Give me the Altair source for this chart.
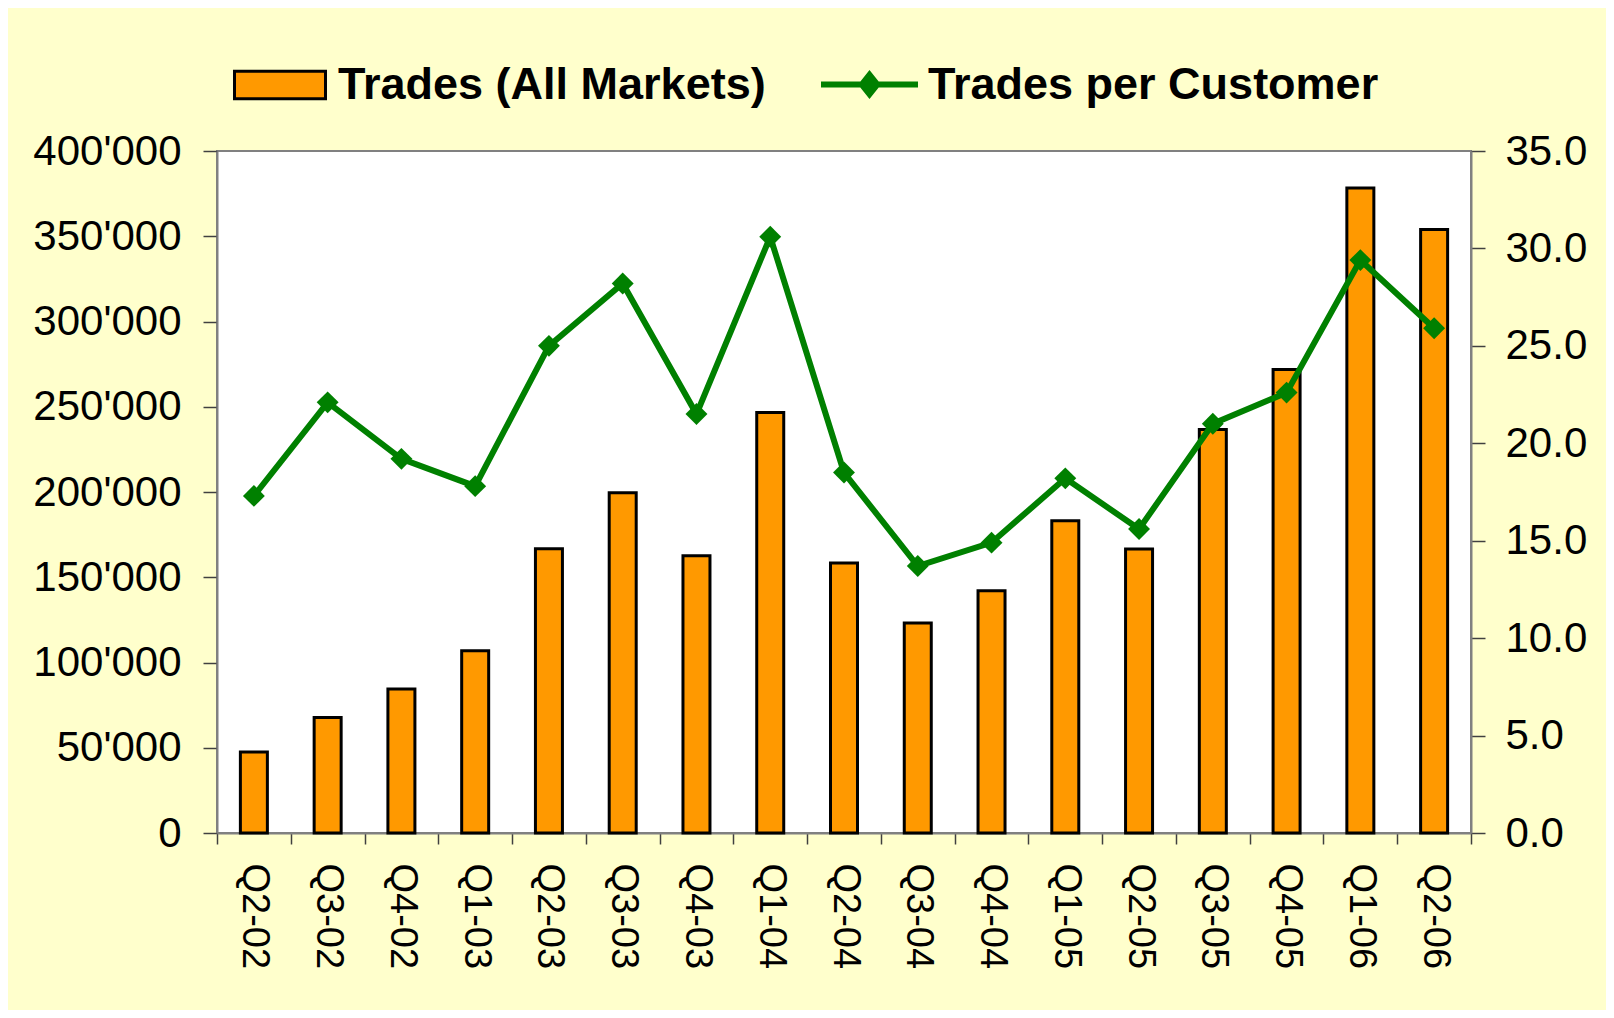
import altair as alt
import pandas as pd

quarters = ["Q2-02", "Q3-02", "Q4-02", "Q1-03", "Q2-03", "Q3-03", "Q4-03", "Q1-04",
            "Q2-04", "Q3-04", "Q4-04", "Q1-05", "Q2-05", "Q3-05", "Q4-05", "Q1-06", "Q2-06"]
trades = [47500, 67800, 84500, 106900, 166700, 199500, 162600, 246700,
          158400, 123200, 142100, 183200, 166600, 236600, 271800, 378300, 353900]
per_customer = [17.3, 22.1, 19.2, 17.8, 25.0, 28.2, 21.5, 30.6,
                18.5, 13.7, 14.9, 18.2, 15.6, 21.0, 22.6, 29.4, 25.9]
bar_name = "Trades (All Markets)"
line_name = "Trades per Customer"
left_ticks = [0, 50000, 100000, 150000, 200000, 250000, 300000, 350000, 400000]
right_ticks = [0, 5, 10, 15, 20, 25, 30, 35]

df = pd.DataFrame({"quarter": quarters, "trades": trades, "per_customer": per_customer})

FONT = "Liberation Sans"
ORANGE = "#FF9900"
GREEN = "#008000"
AXIS_GRAY = "#808080"

x = alt.X(
    "quarter:N", sort=quarters, title=None,
    scale=alt.Scale(paddingInner=0, paddingOuter=0),
    axis=alt.Axis(labelAngle=90, labelFontSize=38, labelFont=FONT, labelColor="black",
                  tickSize=11, tickBand="extent", labelPadding=19,
                  domainColor=AXIS_GRAY, domainWidth=2, tickColor="#404040", tickWidth=1.5),
)

base = alt.Chart(df).encode(x=x)

bars = base.mark_bar(size=27, stroke="black", strokeWidth=3).transform_calculate(
    s1="'" + bar_name + "'"
).encode(
    y=alt.Y("trades:Q", title=None, scale=alt.Scale(domain=[0, 400000], nice=False),
            axis=alt.Axis(values=left_ticks, orient="left", labelFontSize=42, labelFont=FONT,
                          labelColor="black", tickSize=14, labelPadding=22,
                          labelExpr="replace(format(datum.value, ',d'), ',', \"'\")",
                          domainColor=AXIS_GRAY, domainWidth=2, tickColor="#404040",
                          tickWidth=1.5, grid=False)),
    color=alt.Color("s1:N", scale=alt.Scale(domain=[bar_name], range=[ORANGE]),
                    legend=alt.Legend(orient="none", legendX=16, legendY=-113, title=None,
                                      symbolType="M-1,-0.3L1,-0.3L1,0.3L-1,0.3Z",
                                      symbolSize=8281, symbolStrokeColor="black",
                                      symbolStrokeWidth=3, labelFontSize=45, labelFont=FONT,
                                      labelFontWeight="bold", labelColor="black",
                                      labelOffset=11, labelLimit=0, padding=0)),
)

y_right = alt.Y("per_customer:Q", title=None, scale=alt.Scale(domain=[0, 35], nice=False),
                axis=alt.Axis(values=right_ticks, orient="right", format=".1f", labelFontSize=42,
                              labelFont=FONT, labelColor="black", tickSize=14, labelPadding=20,
                              domainColor=AXIS_GRAY, domainWidth=2, tickColor="#404040",
                              tickWidth=1.5, grid=False))

line = base.mark_line(strokeWidth=6).transform_calculate(
    s2="'" + line_name + "'"
).encode(
    y=y_right,
    color=alt.Color("s2:N", scale=alt.Scale(domain=[line_name], range=[GREEN]),
                    legend=alt.Legend(orient="none", legendX=601, legendY=-118, title=None,
                                      symbolType="M-1,0L1,0M-0.16,0L0,-0.2L0.16,0L0,0.2Z",
                                      symbolSize=9409, symbolFillColor=GREEN,
                                      symbolStrokeWidth=6, labelFontSize=45, labelFont=FONT,
                                      labelFontWeight="bold", labelColor="black",
                                      labelOffset=7, labelLimit=0, padding=0)),
)

points = base.mark_point(shape="diamond", filled=True, size=480, opacity=1, color=GREEN).encode(
    y=y_right
)

chart = alt.layer(bars, alt.layer(line, points)).resolve_scale(
    y="independent", color="independent"
).resolve_legend(color="independent").properties(
    width=1254, height=682,
    padding={"left": 209, "top": 143, "right": 135, "bottom": 177},
    autosize=alt.AutoSizeParams(type="none"),
    background="#FFFFCC",
).configure_view(fill="white", stroke=AXIS_GRAY, strokeWidth=2)

chart.save("out.html", embed_options={"renderer": "svg", "actions": False})
